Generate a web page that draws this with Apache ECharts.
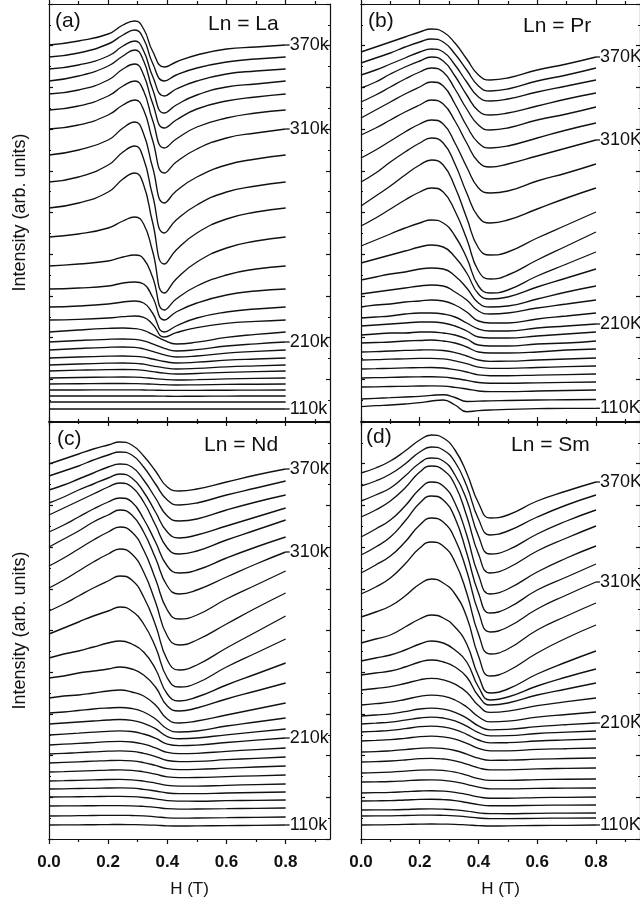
<!DOCTYPE html>
<html>
<head>
<meta charset="utf-8">
<script src="https://cdn.jsdelivr.net/npm/echarts@6.0.0/dist/echarts.min.js"></script>
<style>
  html, body { margin: 0; padding: 0; background: #fff; }
  #chart { width: 640px; height: 904px; }
</style>
</head>
<body>
<div id="chart"></div>
<script>
// Field sampling (T)
const fieldA = [0, 0.1, 0.2, 0.25, 0.29, 0.32, 0.35, 0.39, 0.43, 0.5, 0.6, 0.7, 0.8];
const fieldBCD = [0, 0.05, 0.1, 0.15, 0.2, 0.24, 0.28, 0.32, 0.36, 0.4, 0.44, 0.5, 0.6, 0.7, 0.8];

// Temperature tags written at the end of selected traces: [text, trace index from top]
const tagsLa = [['370k', 0], ['310k', 6], ['210k', 16], ['110k', 26]];
const tagsPr = [['370K', 0], ['310K', 6], ['210K', 16], ['110K', 26]];
const tagsNd = [['370k', 0], ['310k', 6], ['210k', 16], ['110k', 26]];
const tagsSm = [['370K', 0], ['310K', 6], ['210K', 14], ['110K', 26]];

// Offset intensity traces (arb. units), one row per temperature, hottest first
const spectraLa = [
  [376, 380, 387, 396, 400, 392, 370, 354, 359, 366, 372, 374, 376],
  [364, 368, 377, 386, 391, 382, 358, 340, 346, 353, 359, 362, 364],
  [352, 356, 365, 375, 380, 370, 345, 325, 332, 340, 347, 350, 352],
  [340, 345, 355, 365, 371, 360, 332, 308, 316, 326, 334, 337, 340],
  [327, 331, 341, 352, 357, 346, 318, 293, 301, 312, 320, 324, 327],
  [311, 315, 325, 335, 340, 330, 301, 273, 282, 294, 303, 308, 311],
  [292, 296, 306, 316, 321, 311, 281, 248, 259, 272, 283, 288, 292],
  [266, 271, 281, 293, 299, 287, 254, 218, 230, 244, 256, 262, 266],
  [239, 244, 256, 269, 275, 262, 226, 188, 201, 216, 229, 235, 239],
  [213, 218, 229, 242, 248, 236, 199, 157, 171, 188, 202, 209, 213],
  [184, 187, 193, 200, 204, 197, 170, 128, 142, 159, 173, 180, 184],
  [155, 157, 160, 164, 166, 162, 144, 111, 122, 135, 146, 152, 155],
  [132, 133, 135, 138, 139, 137, 124, 101, 109, 118, 126, 130, 132],
  [114, 115, 117, 119, 120, 118, 108, 89, 95, 103, 109, 112, 114],
  [101, 101.6, 103, 104.3, 105, 103.6, 96.8, 84, 88.3, 93.4, 97.6, 99.6, 101],
  [89, 91, 92.6, 93, 92.4, 90.6, 86.6, 80.6, 77, 78.8, 83.6, 86.6, 89],
  [79, 80.5, 81.7, 82, 81.6, 80.2, 77.2, 72.7, 70, 71.4, 75, 77.2, 79],
  [71, 72.5, 73.7, 74, 73.6, 72.2, 69.6, 66.1, 64, 65, 67.9, 69.6, 71],
  [63, 64, 64.8, 65, 64.7, 63.8, 62, 59.5, 58, 58.8, 60.8, 62, 63],
  [56, 57, 57.8, 58, 57.7, 56.8, 55.2, 53.2, 52, 52.6, 54.2, 55.2, 56],
  [50, 50.8, 51.4, 51.5, 51.3, 50.6, 49.4, 47.9, 47, 47.5, 48.7, 49.4, 50],
  [43, 43.5, 43.9, 44, 43.9, 43.4, 42.6, 41.6, 41, 41.3, 42.1, 42.6, 43],
  [37, 37.3, 37.5, 37.5, 37.4, 37.2, 36.8, 36.3, 36, 36.2, 36.6, 36.8, 37],
  [31, 31, 31.2, 31.2, 31.2, 31, 30.9, 30.7, 30.6, 30.7, 30.8, 30.9, 31],
  [25, 25, 25, 25, 25, 25, 25, 24.8, 24.7, 24.8, 24.9, 25, 25],
  [19, 19, 19, 19, 19, 19, 19, 19, 19, 19, 19, 19, 19],
  [12, 12, 12, 12, 12, 12, 12, 12, 12, 12, 12, 12, 12]
];

const spectraPr = [
  [369, 374, 379, 384, 389, 392, 389, 378, 362, 346, 341, 343, 351, 357, 364],
  [358, 363, 368, 374, 379, 382, 379, 367, 351, 335, 330, 332, 340, 346, 353],
  [346, 351, 357, 363, 369, 372, 369, 356, 339, 324, 320, 322, 329, 335, 341],
  [333, 339, 347, 354, 360, 364, 360, 345, 326, 310, 306, 308, 315, 322, 328],
  [319, 326, 334, 342, 349, 353, 349, 332, 312, 296, 291, 293, 301, 307, 314],
  [303, 311, 319, 327, 334, 339, 335, 317, 295, 278, 273, 275, 283, 291, 298],
  [286, 293, 301, 309, 316, 321, 317, 300, 278, 259, 254, 257, 265, 273, 281],
  [263, 271, 280, 289, 297, 301, 297, 278, 254, 233, 228, 230, 240, 248, 257],
  [239, 248, 259, 269, 278, 283, 278, 257, 228, 204, 198, 201, 212, 223, 233],
  [215, 225, 235, 246, 256, 261, 256, 234, 203, 173, 166, 169, 183, 196, 209],
  [195, 203, 212, 221, 229, 233, 229, 210, 182, 150, 142, 146, 161, 175, 189],
  [175, 181, 187, 193, 198, 201, 198, 185, 163, 135, 128, 131, 145, 157, 169],
  [158, 162, 166, 170, 174, 176, 174, 164, 148, 127, 122, 124, 134, 143, 152],
  [141, 144, 147, 149, 152, 153, 152, 145, 133, 118, 114, 115, 122, 129, 135],
  [127, 129, 131, 133, 135, 136, 135, 129, 121, 110, 107, 108, 113, 117, 121],
  [114, 116, 117, 119, 120, 121, 120, 116, 109, 100, 98, 98, 102, 105, 108],
  [103, 104, 105, 107, 108, 108, 107, 104, 98, 92, 90, 90, 93, 95, 97],
  [95, 96, 97, 98, 99, 99, 98, 95, 90, 84, 83, 83, 85, 87, 89],
  [86, 87, 88, 88, 89, 89, 88, 86, 82, 76, 75, 75, 77, 78, 80],
  [78, 78.5, 79, 80, 80.5, 81, 80, 78, 74, 69, 68, 68, 69, 71, 72],
  [69, 69.4, 70, 70.6, 71, 71.2, 70.5, 68.4, 65, 61, 59.7, 59.8, 61, 62, 63],
  [61, 61.3, 61.8, 62.2, 62.6, 62.7, 62.1, 60.1, 57.3, 53.8, 52.7, 52.7, 53.5, 54.3, 55],
  [52, 52.3, 52.7, 53.1, 53.4, 53.5, 53, 51.3, 49, 46.1, 45.3, 45.3, 45.9, 46.4, 47],
  [43, 43.3, 43.6, 44, 44.2, 44.3, 43.9, 42.5, 40.6, 38.5, 37.8, 37.8, 38.2, 38.6, 39],
  [34, 34.2, 34.5, 34.7, 35, 35.1, 34.8, 33.7, 32, 30, 29.4, 29.4, 30, 30.5, 31],
  [22, 22.7, 23.3, 24, 24.7, 25.7, 26.3, 23.5, 19.5, 19.8, 20.2, 20.5, 21, 21.3, 21.5],
  [14.3, 15.3, 16, 17, 18.3, 20, 21, 16, 9.3, 10.3, 11, 11.7, 12.3, 12.7, 12.7]
];

const spectraNd = [
  [375, 380, 385, 390, 394, 397, 394, 383, 368, 352, 348, 350, 357, 364, 370],
  [363, 368, 373, 379, 384, 387, 384, 372, 355, 339, 334, 336, 344, 351, 358],
  [349, 354, 360, 366, 372, 375, 372, 359, 341, 323, 318, 320, 329, 337, 344],
  [336, 342, 349, 355, 361, 365, 361, 347, 327, 307, 301, 304, 313, 322, 331],
  [324, 331, 338, 345, 352, 356, 352, 337, 314, 291, 285, 288, 299, 309, 319],
  [307, 314, 322, 330, 337, 341, 337, 320, 297, 273, 266, 269, 281, 292, 302],
  [292, 300, 308, 317, 324, 329, 324, 307, 281, 253, 245, 249, 262, 275, 287],
  [273, 281, 290, 299, 307, 312, 307, 289, 260, 229, 220, 224, 240, 254, 268],
  [251, 259, 268, 277, 285, 290, 285, 267, 237, 203, 194, 199, 215, 231, 246],
  [228, 235, 243, 251, 258, 263, 259, 242, 214, 179, 169, 174, 191, 207, 223],
  [205, 211, 217, 223, 228, 232, 228, 215, 192, 161, 152, 156, 172, 186, 200],
  [181, 185, 188, 192, 196, 198, 195, 187, 170, 145, 138, 142, 154, 165, 176],
  [161, 163, 166, 168, 170, 172, 170, 164, 152, 133, 128, 131, 140, 148, 156],
  [141, 143, 144, 146, 148, 149, 147, 143, 134, 120, 116, 118, 124, 130, 136],
  [126, 127, 128.5, 130, 131, 131.5, 130.5, 127, 120, 110, 107, 108, 113, 117, 121],
  [115, 116, 117, 118, 119, 119.5, 118.7, 115.6, 110.3, 102.4, 100.3, 101, 104.2, 107.1, 110],
  [104, 104.9, 105.8, 106.8, 107.7, 108.1, 107.5, 105, 100.8, 94.9, 93.4, 93.9, 96.5, 98.8, 101],
  [94, 94.8, 95.6, 96.4, 97.3, 97.6, 97, 94.8, 91.2, 86.6, 85.4, 85.7, 87.7, 89.4, 91],
  [85, 85.6, 86.4, 87.1, 87.8, 88.1, 87.6, 85.6, 82.4, 78.5, 77.4, 77.6, 79.3, 80.7, 82],
  [76, 76.6, 77.2, 77.8, 78.4, 78.6, 78.1, 76.4, 73.6, 70.3, 69.4, 69.6, 70.8, 72, 73],
  [67, 67.4, 67.9, 68.4, 68.9, 69.1, 68.7, 67.1, 64.8, 62.1, 61.4, 61.5, 62.4, 63.2, 64],
  [58, 58.3, 58.7, 59.1, 59.5, 59.6, 59.2, 57.9, 55.9, 53.6, 52.9, 52.9, 53.7, 54.4, 55],
  [50, 50.2, 50.5, 50.7, 51, 51.1, 50.8, 49.7, 48, 46, 45.4, 45.4, 46, 46.5, 47],
  [42, 42.1, 42.3, 42.4, 42.6, 42.6, 42.3, 41.5, 40.2, 38.4, 37.9, 37.8, 38.3, 38.7, 39],
  [33, 33.1, 33.2, 33.3, 33.4, 33.4, 33.2, 32.6, 31.7, 30.3, 29.9, 30, 30.3, 30.7, 31],
  [23, 23.1, 23.3, 23.5, 23.6, 23.7, 23.5, 23.1, 22.2, 21.2, 20.9, 21, 21.3, 21.7, 22],
  [14, 14.1, 14.2, 14.3, 14.4, 14.5, 14.4, 14.2, 13.8, 13.2, 13, 13.1, 13.4, 13.7, 14]
];

const spectraSm = [
  [366, 371, 378, 388, 399, 404, 401, 389, 366, 336, 321, 324, 338, 348, 357],
  [353, 358, 365, 375, 387, 392, 389, 377, 353, 320, 304, 308, 322, 334, 344],
  [338, 344, 351, 363, 376, 381, 378, 364, 339, 303, 285, 289, 305, 318, 329],
  [322, 329, 338, 351, 367, 373, 369, 354, 323, 285, 266, 271, 288, 301, 313],
  [302, 310, 319, 333, 350, 357, 353, 336, 304, 264, 245, 250, 267, 281, 293],
  [284, 292, 302, 318, 336, 343, 339, 321, 286, 246, 226, 231, 249, 262, 275],
  [266, 274, 283, 297, 314, 321, 317, 300, 268, 227, 207, 212, 230, 244, 257],
  [245, 252, 261, 275, 291, 297, 293, 277, 246, 205, 185, 190, 209, 223, 236],
  [222, 227, 233, 243, 255, 260, 256, 245, 222, 183, 163, 168, 186, 201, 214],
  [196, 200, 204, 212, 220, 224, 221, 212, 195, 163, 146, 150, 165, 177, 188],
  [178, 181, 184, 189, 195, 198, 196, 189, 177, 152, 139, 142, 153, 162, 170],
  [164, 166, 168, 172, 177, 179, 177, 172, 162, 143, 134, 136, 144, 150, 156],
  [149, 150.5, 152.3, 155.5, 159.2, 160.6, 159.2, 154.9, 146.8, 133.5, 126.6, 127.8, 133.3, 137.3, 141],
  [134, 135.3, 136.8, 139.5, 142.7, 143.9, 142.8, 139, 132, 122.2, 117.2, 117.9, 121.8, 124.5, 127],
  [123, 124, 125.2, 127.4, 130, 130.9, 129.9, 126.7, 120.9, 113.1, 109.2, 109.6, 112.4, 114.3, 116],
  [115, 115.9, 116.9, 118.8, 121, 121.9, 121, 118.1, 112.8, 106.4, 103.2, 103.4, 105.5, 106.8, 108],
  [107, 107.7, 108.6, 110.3, 112.3, 112.9, 112, 109.4, 104.7, 99, 96.2, 96.3, 98, 99.1, 100],
  [98, 98.6, 99.3, 100.7, 102.4, 102.9, 102.1, 99.8, 95.6, 90.7, 88.2, 88.2, 89.6, 90.3, 91],
  [87, 87.4, 88.2, 89.3, 90.7, 91.2, 90.5, 88.5, 84.9, 80.8, 78.7, 78.8, 79.8, 80.5, 81],
  [77, 77.4, 78, 79, 80.3, 80.7, 80, 78.2, 74.9, 71.1, 69.2, 69.2, 70.1, 70.6, 71],
  [66, 66.3, 66.9, 67.8, 68.9, 69.2, 68.6, 66.9, 63.8, 60.4, 58.7, 58.7, 59.3, 59.8, 60],
  [57, 57.2, 57.5, 58.2, 59, 59.2, 58.6, 57.2, 54.7, 51.8, 50.2, 50.1, 50.6, 50.9, 51],
  [46, 46.3, 46.6, 47.3, 48, 48.3, 47.9, 46.7, 44.6, 42.1, 40.8, 40.8, 41.4, 41.7, 42],
  [38, 38.2, 38.4, 39, 39.6, 39.8, 39.4, 38.4, 36.5, 34.4, 33.3, 33.3, 33.7, 33.9, 34],
  [29, 29.1, 29.2, 29.5, 30, 30.1, 29.8, 29.1, 27.9, 26.2, 25.4, 25.3, 25.7, 25.9, 26],
  [23, 23.1, 23.2, 23.5, 23.8, 23.9, 23.7, 23.2, 22.2, 21, 20.4, 20.4, 20.7, 20.9, 21],
  [14, 14.1, 14.3, 14.6, 14.9, 15, 14.9, 14.7, 14.1, 13.4, 13, 13.1, 13.5, 13.7, 14]
];

// Axis ticks
const fieldMajorTicks = [0, 0.2, 0.4, 0.6, 0.8];
const fieldMinorTicks = [0.1, 0.3, 0.5, 0.7, 0.9];

const INK = '#111111';
const FONT = '"Liberation Sans", Arial, Helvetica, sans-serif';

const panels = [
  { tag: '(a)', title: 'Ln = La', field: fieldA,   rows: spectraLa, tags: tagsLa,
    grid: { left: 49,  top: 4,   width: 281, height: 417 }, bottom: false, yName: true,
    tagPos: [55, 11], titlePos: [208, 14] },
  { tag: '(b)', title: 'Ln = Pr', field: fieldBCD, rows: spectraPr, tags: tagsPr,
    grid: { left: 361, top: 4,   width: 281, height: 417 }, bottom: false, yName: false,
    tagPos: [368, 11], titlePos: [523, 16] },
  { tag: '(c)', title: 'Ln = Nd', field: fieldBCD, rows: spectraNd, tags: tagsNd,
    grid: { left: 49,  top: 422, width: 281, height: 417 }, bottom: true, yName: true,
    tagPos: [57, 429], titlePos: [204, 435] },
  { tag: '(d)', title: 'Ln = Sm', field: fieldBCD, rows: spectraSm, tags: tagsSm,
    grid: { left: 361, top: 422, width: 281, height: 417 }, bottom: true, yName: false,
    tagPos: [366, 427], titlePos: [511, 435] }
];

const grids = [], xAxes = [], yAxes = [], series = [], graphics = [];

panels.forEach((p, g) => {
  grids.push(p.grid);

  const lineStyle = { color: INK, width: 1.2 };
  const xBase = {
    gridIndex: g, type: 'value', min: 0, max: 0.95,
    splitLine: { show: false },
    axisLine: { show: true, onZero: false, lineStyle }
  };
  const xMainIndex = xAxes.length;
  xAxes.push(Object.assign({}, xBase, {
    position: 'bottom',
    axisTick: { show: true, inside: false, length: 5, customValues: fieldMajorTicks, lineStyle },
    axisLabel: {
      show: p.bottom, customValues: fieldMajorTicks, margin: 15,
      formatter: v => v.toFixed(1),
      color: INK, fontSize: 17, fontWeight: 'bold', fontFamily: FONT
    },
    name: p.bottom ? 'H (T)' : '', nameLocation: 'middle', nameGap: 42,
    nameTextStyle: { color: INK, fontSize: 17, fontFamily: FONT }
  }));
  xAxes.push(Object.assign({}, xBase, {
    position: 'bottom',
    axisTick: { show: true, inside: false, length: 3, customValues: fieldMinorTicks, lineStyle },
    axisLabel: { show: false }
  }));
  xAxes.push(Object.assign({}, xBase, {
    position: 'top',
    axisTick: { show: true, inside: false, length: 5, customValues: fieldMajorTicks, lineStyle },
    axisLabel: { show: false }
  }));
  xAxes.push(Object.assign({}, xBase, {
    position: 'top',
    axisTick: { show: true, inside: false, length: 3, customValues: fieldMinorTicks, lineStyle },
    axisLabel: { show: false }
  }));

  const yBase = {
    gridIndex: g, type: 'value', min: 0, max: 417, interval: 41.7,
    splitLine: { show: false },
    axisLine: { show: true, onZero: false, lineStyle },
    axisTick: { show: true, inside: true, length: 4, lineStyle },
    minorTick: { show: true, splitNumber: 2, length: 2, lineStyle },
    axisLabel: { show: false }
  };
  const yMainIndex = yAxes.length;
  yAxes.push(Object.assign({}, yBase, {
    position: 'left',
    name: p.yName ? 'Intensity (arb. units)' : '', nameLocation: 'middle', nameGap: 20,
    nameTextStyle: { color: INK, fontSize: 18, fontFamily: FONT }
  }));
  yAxes.push(Object.assign({}, yBase, { position: 'right' }));

  p.rows.forEach((row, i) => {
    const s = {
      type: 'line',
      xAxisIndex: xMainIndex,
      yAxisIndex: yMainIndex,
      data: p.field.map((h, j) => [h, row[j]]),
      showSymbol: false,
      smooth: 0.5,
      silent: true,
      lineStyle: { color: INK, width: 1.35 }
    };
    const tag = p.tags.find(t => t[1] === i);
    if (tag) {
      s.endLabel = {
        show: true,
        distance: 0,
        formatter: '{d|}{t|' + tag[0] + '}',
        rich: {
          d: { width: 4, height: 1.3, backgroundColor: INK },
          t: { color: INK, fontSize: 18, fontFamily: FONT }
        }
      };
    }
    series.push(s);
  });

  graphics.push({
    type: 'text', left: p.tagPos[0], top: p.tagPos[1], silent: true,
    style: { text: p.tag, fill: INK, fontSize: 21, fontFamily: FONT }
  });
  graphics.push({
    type: 'text', left: p.titlePos[0], top: p.titlePos[1], silent: true,
    style: { text: p.title, fill: INK, fontSize: 21, fontFamily: FONT }
  });
});

const chart = echarts.init(document.getElementById('chart'), null, { renderer: 'canvas' });
chart.setOption({
  backgroundColor: '#ffffff',
  animation: false,
  grid: grids,
  xAxis: xAxes,
  yAxis: yAxes,
  series: series,
  graphic: graphics
});
</script>
</body>
</html>
